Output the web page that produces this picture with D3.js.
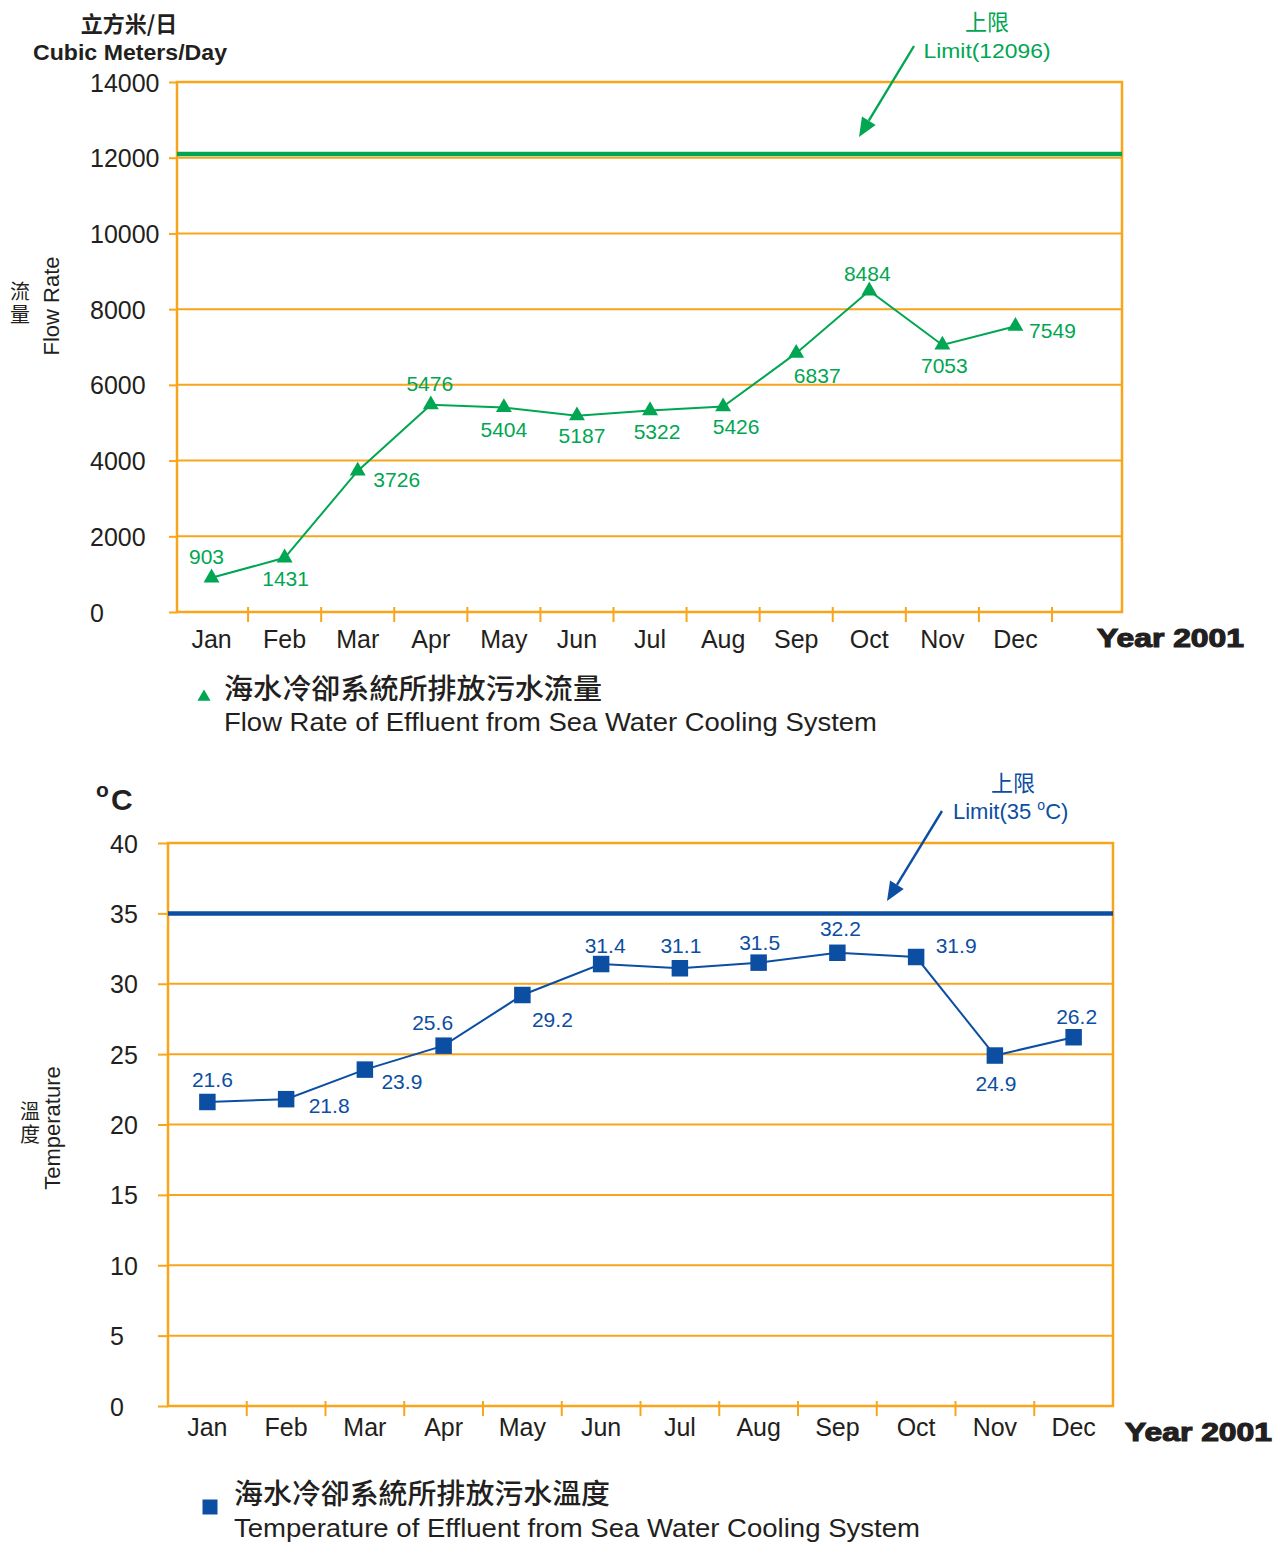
<!DOCTYPE html>
<html>
<head>
<meta charset="utf-8">
<script src="https://cdn.jsdelivr.net/npm/d3@7"></script>
<style>
  html, body { margin: 0; padding: 0; background: #fff; }
  svg { display: block; }
  text { font-family: "Liberation Sans", Arial, Helvetica, sans-serif; }
  .cjk { font-family: "Noto Sans CJK TC", "Noto Sans CJK SC", sans-serif; }
  .vert { writing-mode: vertical-rl; text-orientation: upright; }
</style>
</head>
<body>
<script>
// ---------------- DATA ----------------
const months = ["Jan","Feb","Mar","Apr","May","Jun","Jul","Aug","Sep","Oct","Nov","Dec"];
const flowValues = [903, 1431, 3726, 5476, 5404, 5187, 5322, 5426, 6837, 8484, 7053, 7549];
const flowLimit = 12096;
const flowTicks = [0, 2000, 4000, 6000, 8000, 10000, 12000, 14000];
const tempValues = [21.6, 21.8, 23.9, 25.6, 29.2, 31.4, 31.1, 31.5, 32.2, 31.9, 24.9, 26.2];
const tempLimit = 35;
const tempTicks = [0, 5, 10, 15, 20, 25, 30, 35, 40];

// label placement (layout only): offset of label centre from its point
const flowLabelOffsets = [[-5,-21],[1,21],[39,8],[-1,-21],[0,22],[5,20],[7,21],[13,20],[21,22],[-2,-17],[2,20],[37,4]];
const tempLabelOffsets = [[5,-23],[43,6],[37,12],[-11,-23],[30,24],[4,-19],[1,-23],[1,-20],[3,-24],[40,-12],[1,28],[3,-21]];

// ---------------- STYLE ----------------
const ORANGE = "#f9a51b";
const GREEN = "#00a651";
const BLUE = "#0b4ea2";
const TEXT = "#231f20";

const svg = d3.select("body").append("svg").attr("width", 1277).attr("height", 1542);

function drawChart(cfg) {
  const g = svg.append("g");
  const x = d3.scaleBand().domain(months).range(cfg.xRange).paddingInner(0).paddingOuter(0);
  const y = d3.scaleLinear().domain([0, cfg.ticks[cfg.ticks.length - 1]]).range([cfg.bottom, cfg.top]);

  // gridlines
  g.append("g").selectAll("line").data(cfg.ticks).join("line")
    .attr("x1", cfg.left).attr("x2", cfg.right)
    .attr("y1", d => y(d)).attr("y2", d => y(d))
    .attr("stroke", ORANGE).attr("stroke-width", 2);

  // frame
  g.append("rect").attr("x", cfg.left).attr("y", cfg.top)
    .attr("width", cfg.right - cfg.left).attr("height", cfg.bottom - cfg.top)
    .attr("fill", "none").attr("stroke", ORANGE).attr("stroke-width", 2.5);

  // y axis (ticks + labels)
  const yAx = g.append("g").attr("transform", `translate(${cfg.left},0)`)
    .call(d3.axisLeft(y).tickValues(cfg.ticks).tickSize(cfg.yTickLen).tickFormat(d3.format("d")));
  yAx.select(".domain").remove();
  yAx.selectAll(".tick line").attr("stroke", ORANGE).attr("stroke-width", 2);
  yAx.selectAll(".tick text")
    .attr("x", cfg.yLabelX - cfg.left).attr("text-anchor", "start")
    .attr("dy", "0.36em")
    .attr("fill", TEXT).style("font-size", cfg.yFont + "px")
    .style("font-family", '"Liberation Sans", Arial, sans-serif');

  // x axis labels
  const xAx = g.append("g").attr("transform", `translate(0,${cfg.bottom})`)
    .call(d3.axisBottom(x).tickSize(0).tickPadding(cfg.xPad));
  xAx.select(".domain").remove();
  xAx.selectAll(".tick text").attr("fill", TEXT).style("font-size", "25px")
    .style("font-family", '"Liberation Sans", Arial, sans-serif');

  // x boundary ticks
  const bounds = months.slice(0, cfg.xTickCount).map(m => x(m) + x.bandwidth());
  g.append("g").selectAll("line").data(bounds).join("line")
    .attr("x1", d => d).attr("x2", d => d)
    .attr("y1", cfg.bottom - 5).attr("y2", cfg.bottom + 10)
    .attr("stroke", ORANGE).attr("stroke-width", 2);

  // limit line
  g.append("line").attr("x1", cfg.left).attr("x2", cfg.right)
    .attr("y1", y(cfg.limit)).attr("y2", y(cfg.limit))
    .attr("stroke", cfg.color).attr("stroke-width", 4.5);

  // data line
  const cx = i => x(months[i]) + x.bandwidth() / 2;
  const line = d3.line().x((d, i) => cx(i)).y(d => y(d));
  g.append("path").datum(cfg.values).attr("d", line)
    .attr("fill", "none").attr("stroke", cfg.color).attr("stroke-width", 2);

  // markers
  g.append("g").selectAll("path").data(cfg.values).join("path")
    .attr("d", d3.symbol().type(cfg.symbol).size(cfg.symbolSize))
    .attr("transform", (d, i) => `translate(${cx(i)},${y(d)})`)
    .attr("fill", cfg.color);

  // value labels
  g.append("g").selectAll("text").data(cfg.values).join("text")
    .attr("x", (d, i) => cx(i) + cfg.labelOffsets[i][0])
    .attr("y", (d, i) => y(d) + cfg.labelOffsets[i][1])
    .attr("dy", "0.36em").attr("text-anchor", "middle")
    .attr("fill", cfg.color).style("font-size", "21px")
    .text(d => d);

  // Year label
  g.append("text").attr("x", cfg.yearX).attr("y", cfg.bottom + 35)
    .attr("fill", TEXT).style("font-size", "25px").style("font-weight", "bold")
    .attr("stroke", TEXT).attr("stroke-width", 1.1)
    .attr("textLength", 147).attr("lengthAdjust", "spacingAndGlyphs")
    .text("Year 2001");

  return { x, y, g };
}

function arrow(g, x1, y1, x2, y2, color) {
  const ang = Math.atan2(y2 - y1, x2 - x1);
  const L = 19, W = 8;
  const bx = x2 - L * Math.cos(ang), by = y2 - L * Math.sin(ang);
  g.append("line").attr("x1", x1).attr("y1", y1).attr("x2", bx).attr("y2", by)
    .attr("stroke", color).attr("stroke-width", 2.4);
  const px = -Math.sin(ang) * W, py = Math.cos(ang) * W;
  g.append("polygon")
    .attr("points", `${x2},${y2} ${bx + px},${by + py} ${bx - px},${by - py}`)
    .attr("fill", color);
}

// ---------------- TOP CHART ----------------
drawChart({
  left: 177, right: 1122, top: 82, bottom: 612,
  xRange: [175, 1052], xTickCount: 12, xPad: 18,
  ticks: flowTicks, yTickLen: 8, yLabelX: 90, yFont: 25,
  values: flowValues, limit: flowLimit, color: GREEN,
  symbol: d3.symbolTriangle, symbolSize: 110,
  labelOffsets: flowLabelOffsets, yearX: 1097
});

svg.append("text").attr("class", "cjk").attr("x", 129).attr("y", 32)
  .attr("text-anchor", "middle").attr("fill", TEXT)
  .style("font-size", "22px").style("font-weight", "bold").text("立方米/日");
svg.append("text").attr("x", 130).attr("y", 60)
  .attr("text-anchor", "middle").attr("fill", TEXT)
  .style("font-size", "22px").style("font-weight", "bold")
  .attr("textLength", 194).attr("lengthAdjust", "spacingAndGlyphs")
  .text("Cubic Meters/Day");

// y titles
svg.append("text").attr("transform", "translate(59,306) rotate(-90)")
  .attr("text-anchor", "middle").attr("fill", TEXT).style("font-size", "22px")
  .text("Flow Rate");
svg.append("text").attr("class", "cjk vert").attr("x", 20).attr("y", 281)
  .attr("fill", TEXT).style("font-size", "20px").style("letter-spacing", "3px").text("流量");

// limit annotation
svg.append("text").attr("class", "cjk").attr("x", 987).attr("y", 30)
  .attr("text-anchor", "middle").attr("fill", GREEN).style("font-size", "22px").text("上限");
svg.append("text").attr("x", 987).attr("y", 58)
  .attr("text-anchor", "middle").attr("fill", GREEN).style("font-size", "21px")
  .attr("textLength", 127).attr("lengthAdjust", "spacingAndGlyphs")
  .text("Limit(12096)");
arrow(svg, 914, 46, 859, 137, GREEN);

// legend
svg.append("path").attr("d", d3.symbol().type(d3.symbolTriangle).size(75)())
  .attr("transform", "translate(204,697)").attr("fill", GREEN);
svg.append("text").attr("class", "cjk").attr("x", 224).attr("y", 699)
  .attr("fill", TEXT).style("font-size", "28px").style("font-weight", "500")
  .attr("textLength", 378).attr("lengthAdjust", "spacingAndGlyphs")
  .text("海水冷卻系統所排放污水流量");
svg.append("text").attr("x", 224).attr("y", 731)
  .attr("fill", TEXT).style("font-size", "25px")
  .attr("textLength", 653).attr("lengthAdjust", "spacingAndGlyphs")
  .text("Flow Rate of Effluent from Sea Water Cooling System");

// ---------------- BOTTOM CHART ----------------
drawChart({
  left: 168, right: 1113, top: 843, bottom: 1406,
  xRange: [168, 1113], xTickCount: 11, xPad: 12,
  ticks: tempTicks, yTickLen: 10, yLabelX: 110, yFont: 25,
  values: tempValues, limit: tempLimit, color: BLUE,
  symbol: d3.symbolSquare, symbolSize: 272,
  labelOffsets: tempLabelOffsets, yearX: 1125
});

// °C
svg.append("text").attr("x", 96).attr("y", 797).attr("fill", TEXT)
  .style("font-size", "21px").style("font-weight", "bold").text("o");
svg.append("text").attr("x", 111).attr("y", 810).attr("fill", TEXT)
  .style("font-size", "30px").style("font-weight", "bold").text("C");

svg.append("text").attr("transform", "translate(60,1128) rotate(-90)")
  .attr("text-anchor", "middle").attr("fill", TEXT).style("font-size", "22px")
  .text("Temperature");
svg.append("text").attr("class", "cjk vert").attr("x", 30).attr("y", 1101)
  .attr("fill", TEXT).style("font-size", "20px").style("letter-spacing", "3px").text("溫度");

svg.append("text").attr("class", "cjk").attr("x", 1013).attr("y", 791)
  .attr("text-anchor", "middle").attr("fill", BLUE).style("font-size", "22px").text("上限");
const lim2 = svg.append("text").attr("x", 953).attr("y", 819).attr("fill", BLUE).style("font-size", "22px");
lim2.append("tspan").text("Limit(35 ");
lim2.append("tspan").attr("dy", -9).style("font-size", "14px").text("o");
lim2.append("tspan").attr("dy", 9).text("C)");
arrow(svg, 942, 811, 887, 901, BLUE);

svg.append("path").attr("d", d3.symbol().type(d3.symbolSquare).size(225)())
  .attr("transform", "translate(210,1507)").attr("fill", BLUE);
svg.append("text").attr("class", "cjk").attr("x", 234).attr("y", 1504)
  .attr("fill", TEXT).style("font-size", "28px").style("font-weight", "500")
  .attr("textLength", 376).attr("lengthAdjust", "spacingAndGlyphs")
  .text("海水冷卻系統所排放污水溫度");
svg.append("text").attr("x", 234).attr("y", 1537)
  .attr("fill", TEXT).style("font-size", "25px")
  .attr("textLength", 686).attr("lengthAdjust", "spacingAndGlyphs")
  .text("Temperature of Effluent from Sea Water Cooling System");
</script>
</body>
</html>
